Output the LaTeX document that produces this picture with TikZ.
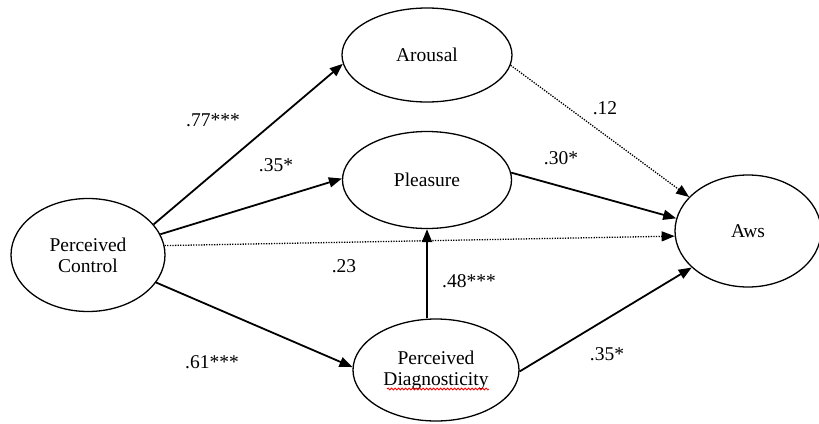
\documentclass[tikz,border=0pt]{standalone}
\usepackage{fontspec}
\setmainfont{Liberation Serif}
\usetikzlibrary{arrows.meta,shapes.geometric,decorations.pathmorphing}

\begin{document}
\begin{tikzpicture}[x=1pt, y=-1pt, font=\fontsize{19.5}{21}\selectfont,
    latent/.style={draw, ellipse, line width=1.3pt, inner sep=0pt, align=center},
    effect/.style={line width=1.8pt, -{Triangle[length=13pt, width=10pt]}},
    weak/.style={line width=1.3pt, dash pattern=on 1.3pt off 1.3pt, -{Triangle[length=13pt, width=10pt]}},
    squiggle/.style={red, line width=0.8pt, decorate, decoration={snake, amplitude=1pt, segment length=3.5pt}}]
  \useasboundingbox (0,0) rectangle (819,423);
  \node[latent, minimum width=154pt, minimum height=113pt] (pc) at (88,255) {Perceived\\Control};
  \node[latent, minimum width=170pt, minimum height=94pt] (arousal) at (427,55) {Arousal};
  \node[latent, minimum width=169pt, minimum height=97pt] (pleasure) at (427,180) {Pleasure};
  \node[latent, minimum width=166pt, minimum height=102pt] (diag) at (436,370) {Perceived\\Diagnosticity};
  \node[latent, minimum width=146pt, minimum height=112pt] (aws) at (748,231) {Aws};
  \draw[squiggle] ([shift={(-49,19)}]diag.center) -- ([shift={(53,19)}]diag.center);

  \draw[effect] (pc.25) -- (arousal.186);
  \draw[effect] (pc.16) -- (pleasure.179);
  \draw[weak] (pc.7) -- (aws.184);
  \draw[effect] (pc.-22) -- (diag.178);
  \draw[weak] (arousal.-7) -- (aws.150);
  \draw[effect] (pleasure.5) -- (aws.170);
  \draw[effect] (diag.north -| pleasure.south) -- (pleasure.south);
  \draw[effect] (diag.-1) -- (aws.213);

  \node (c77) at (213,120) {.77***};
  \node (c35a) at (276,165) {.35*};
  \node (c12) at (605,108) {.12};
  \node (c30) at (561,158) {.30*};
  \node (c23) at (344,266) {.23};
  \node (c48) at (469,281) {.48***};
  \node (c61) at (212,362) {.61***};
  \node (c35b) at (607,354) {.35*};
\end{tikzpicture}
\end{document}
